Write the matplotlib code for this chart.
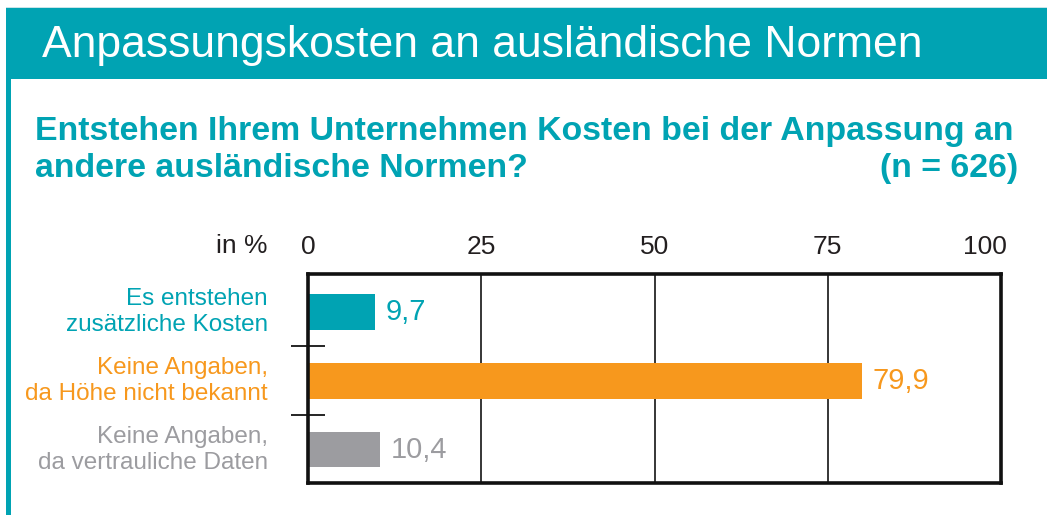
import matplotlib.pyplot as plt
from matplotlib.patches import Rectangle
from matplotlib.transforms import ScaledTranslation

plt.rcParams['font.family'] = ['Liberation Sans', 'DejaVu Sans']

# Daten
kategorien = ['Es entstehen\nzusätzliche Kosten',
              'Keine Angaben,\nda Höhe nicht bekannt',
              'Keine Angaben,\nda vertrauliche Daten']
werte = [9.7, 79.9, 10.4]
wert_labels = ['9,7', '79,9', '10,4']
x_ticks = [0, 25, 50, 75, 100]

teal = '#00a3b3'
farben = [teal, '#f7981d', '#9c9ca0']

W, H = 1047, 515
fig = plt.figure(figsize=(W / 100, H / 100), dpi=100)


def px(x, y):
    # Pixel (von oben links) -> Figurkoordinaten
    return x / W, 1 - y / H


# Kopfband und linker Rand
fig.patches.append(Rectangle(px(6, 79), (W - 6) / W, 72 / H, transform=fig.transFigure,
                             facecolor=teal, edgecolor='none', zorder=0))
fig.patches.append(Rectangle(px(6, 515), 5 / W, (515 - 79) / H, transform=fig.transFigure,
                             facecolor=teal, edgecolor='none', zorder=0))
fig.patches.append(Rectangle(px(6, 8), (W - 6) / W, 1 / H, transform=fig.transFigure,
                             facecolor='#c8e4e8', edgecolor='none', zorder=0))

fig.text(*px(42, 45), 'Anpassungskosten an ausländische Normen', color='white',
         fontsize=32, va='center', ha='left')
fig.text(*px(35, 140), 'Entstehen Ihrem Unternehmen Kosten bei der Anpassung an',
         color=teal, fontsize=24.4, fontweight='bold', va='baseline', ha='left')
fig.text(*px(35, 177), 'andere ausländische Normen?',
         color=teal, fontsize=24.4, fontweight='bold', va='baseline', ha='left')
fig.text(*px(1018, 177), '(n = 626)',
         color=teal, fontsize=24.4, fontweight='bold', va='baseline', ha='right')

l, b = px(308, 483)
ax = fig.add_axes([l, b, (1001 - 308) / W, (483 - 274) / H])

pos = range(len(werte))
ax.barh(pos, werte, height=0.51, color=farben, zorder=2)
for p, v, t, c in zip(pos, werte, wert_labels, farben):
    ax.text(v + 1.5, p, t, color=c, fontsize=21, va='center', ha='left')

ax.set_xlim(0, 100)
ax.set_ylim(2.48, -0.55)

ax.set_xticks(x_ticks)
ax.xaxis.tick_top()
ax.tick_params(axis='x', length=0, pad=11, labelsize=19, labelcolor='#231f20')
# "100" sitzt im Original etwas links von der Rahmenlinie
letztes = ax.get_xticklabels()[-1]
letztes.set_transform(letztes.get_transform() + ScaledTranslation(-0.16, 0, fig.dpi_scale_trans))
for g in x_ticks[1:-1]:
    ax.axvline(g, color='black', lw=1.1, zorder=1)

ax.set_yticks([0.5, 1.5])
ax.set_yticklabels([])
ax.tick_params(axis='y', direction='inout', length=25, width=1.2, color='black')
for p, k, c in zip(pos, kategorien, farben):
    ax.text(-5.8, p, k, color=c, fontsize=17.5, ha='right', va='center',
            linespacing=1.28, transform=ax.transData)

for s in ax.spines.values():
    s.set_linewidth(2.6)
    s.set_color('#111111')

fig.text(*px(268, 246), 'in %', fontsize=19, color='#231f20', ha='right', va='center')

fig.savefig('out.png', dpi=100)
